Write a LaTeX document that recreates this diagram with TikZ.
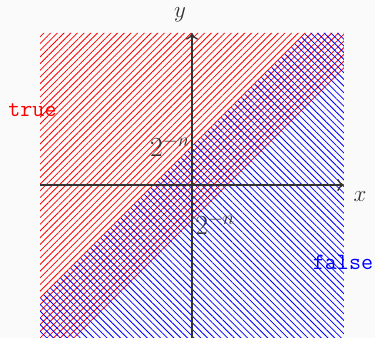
\documentclass[tikz,border=0pt]{standalone}
\usepackage{fontspec}
\usetikzlibrary{patterns.meta,arrows.meta}
\definecolor{axisgray}{HTML}{333333}
\definecolor{bg}{HTML}{FAFAFA}
\tikzset{
  redhatch/.style={pattern={Lines[angle=45,distance=3.55pt,line width=0.6pt]},pattern color=red},
  bluehatch/.style={pattern={Lines[angle=-45,distance=3.55pt,line width=0.6pt]},pattern color=blue},
  axis/.style={draw=axisgray,line width=1pt,-{To[length=5pt,width=9pt]}},
  mathlbl/.style={text=axisgray,font=\fontsize{16}{19}\selectfont,inner sep=0pt},
  powlbl/.style={text=axisgray,font=\fontsize{20}{24}\selectfont,inner sep=0pt},
  ttlbl/.style={font=\fontsize{17.5}{20}\selectfont\ttfamily,inner sep=0pt}
}
\begin{document}
\begin{tikzpicture}[x=0.75pt,y=-0.75pt]
\fill[bg] (0,0) rectangle (375,338);
\useasboundingbox (0,0) rectangle (375,338);
\begin{scope}
\clip (40,33) rectangle (344,338);
\fill[redhatch] (40,33) -- (344,33) -- (344,71) -- (77,338) -- (40,338) -- cycle;
\fill[bluehatch] (40,299) -- (306,33) -- (344,33) -- (344,338) -- (40,338) -- cycle;
\end{scope}
\coordinate (xs) at (40,185);
\coordinate (xe) at (344,185);
\coordinate (ys) at (192,338);
\coordinate (ye) at (192,33);
\draw[axis] (xs) -- (xe);
\draw[axis] (ys) -- (ye);
\node[mathlbl] (xl) at (360,197) {$x$};
\node[mathlbl] (yl) at (180,15) {$y$};
\node[powlbl,anchor=east] (l1) at (190,146) {$2^{-n}$};
\node[powlbl,anchor=west] (l2) at (195,224) {$2^{-n}$};
\node[ttlbl,text=red] (t) at (32.5,110) {true};
\node[ttlbl,text=blue] (f) at (343,262) {false};
\end{tikzpicture}
\end{document}
